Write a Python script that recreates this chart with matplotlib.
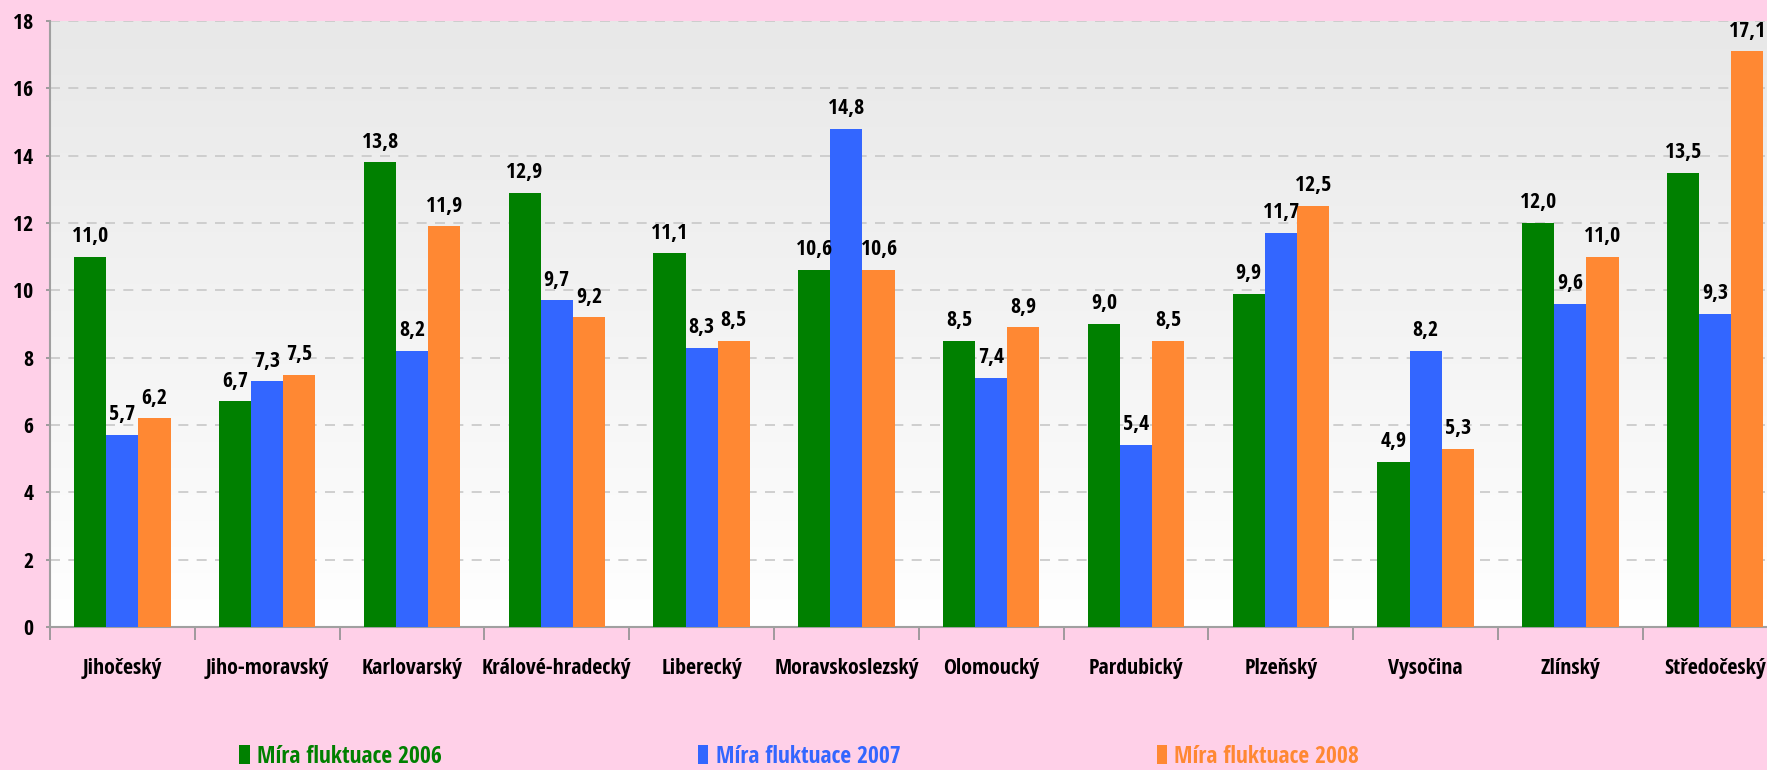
import matplotlib.pyplot as plt
import numpy as np
from matplotlib import font_manager
from matplotlib.font_manager import FontProperties
from matplotlib.textpath import TextPath

# Data
kraje = ['Jihočeský', 'Jiho-moravský', 'Karlovarský', 'Králové-hradecký', 'Liberecký',
         'Moravskoslezský', 'Olomoucký', 'Pardubický', 'Plzeňský', 'Vysočina',
         'Zlínský', 'Středočeský']
mira_2006 = [11.0, 6.7, 13.8, 12.9, 11.1, 10.6, 8.5, 9.0, 9.9, 4.9, 12.0, 13.5]
mira_2007 = [5.7, 7.3, 8.2, 9.7, 8.3, 14.8, 7.4, 5.4, 11.7, 8.2, 9.6, 9.3]
mira_2008 = [6.2, 7.5, 11.9, 9.2, 8.5, 10.6, 8.9, 8.5, 12.5, 5.3, 11.0, 17.1]
serie_nazvy = ['Míra fluktuace 2006', 'Míra fluktuace 2007', 'Míra fluktuace 2008']
y_ticks = [0, 2, 4, 6, 8, 10, 12, 14, 16, 18]

barvy = ['#008000', '#3366ff', '#ff8833']

POVOLENE = {'Liberation Sans Narrow', 'Liberation Sans', 'DejaVu Sans', 'Noto Sans',
            'Roboto', 'Open Sans', 'Lato', 'Inter', 'Roboto Condensed',
            'Open Sans Condensed', 'Noto Sans Condensed', 'DejaVu Sans Condensed'}


def sirka_textu(text, fp, size=100):
    return TextPath((0, 0), text, size=size, prop=fp).get_extents().width


# vybereme nejuzsi tucny font (original je uzky tucny)
nejlepsi = None
for f in font_manager.fontManager.ttflist:
    w = f.weight
    if isinstance(w, str):
        w = font_manager.weight_dict.get(w, 400)
    if f.name not in POVOLENE or w < 600 or f.style != 'normal':
        continue
    try:
        fp = FontProperties(fname=f.fname)
        r = sirka_textu('Jihočeský', fp) / 100
    except Exception:
        continue
    if nejlepsi is None or r < nejlepsi[0]:
        nejlepsi = (r, f.fname)

FNAME = nejlepsi[1]
# velikost tak, aby 'Jihočeský' mel ~81 px a legenda ~182 px
SIZE = float(np.clip(81 * 0.72 / nejlepsi[0], 12, 17))
LEG_SIZE = float(np.clip(182 * 0.72 / (sirka_textu('Míra fluktuace 2006', FontProperties(fname=FNAME)) / 100), 12, 18))


def fp(size):
    return FontProperties(fname=FNAME, size=size)


fig = plt.figure(figsize=(17.67, 7.70), dpi=100, facecolor='#ffd0e8')
# osa presahuje pravy okraj obrazku jako v originale
ax = fig.add_axes([50 / 1767, 143 / 770, 12 * 144.8 / 1767, 606 / 770])

# pozadi s prechodem (bila dole, seda nahore)
grad = np.linspace(0, 1, 256).reshape(-1, 1)
ax.imshow(grad, cmap=plt.matplotlib.colors.LinearSegmentedColormap.from_list(
    'g', ['#ffffff', '#e8e8e8']), origin='lower', aspect='auto',
    extent=[0, 12, 0, 18], zorder=0)

n = len(kraje)
x = np.arange(n)
sirka = 1 / 4.5
serie = [mira_2006, mira_2007, mira_2008]
bary = []
for k, (hodnoty, barva, nazev) in enumerate(zip(serie, barvy, serie_nazvy)):
    pos = x + 0.75 * sirka + (k + 0.5) * sirka
    b = ax.bar(pos, hodnoty, width=sirka, color=barva, label=nazev, zorder=3)
    bary.append(b)
    for px, h in zip(pos, hodnoty):
        ax.annotate('{:.1f}'.format(h).replace('.', ','), (px, h), xytext=(0, 7),
                    textcoords='offset points', ha='center', va='bottom',
                    fontproperties=fp(SIZE), color='black', zorder=4,
                    annotation_clip=False)

ax.set_xlim(0, 12)
ax.set_ylim(0, 18)
ax.set_yticks(y_ticks)
ax.set_yticklabels([str(t) for t in y_ticks], fontproperties=fp(SIZE))
ax.yaxis.grid(True, color='#c8c8c8', linestyle=(0, (6, 5)), linewidth=1.2, zorder=1)

ax.set_xticks(np.arange(0, n + 1))
ax.set_xticklabels([])
ax.set_xticks(x + 0.5, minor=True)
ax.set_xticklabels(kraje, minor=True, fontproperties=fp(SIZE))
ax.tick_params(axis='x', which='major', length=9, width=1.2, color='#909090', direction='out')
ax.tick_params(axis='x', which='minor', length=0, pad=22)
ax.tick_params(axis='y', length=3, width=1.2, color='#909090', pad=9)

for s in ['top', 'right']:
    ax.spines[s].set_visible(False)
for s in ['left', 'bottom']:
    ax.spines[s].set_color('#a0a0a0')
    ax.spines[s].set_linewidth(1.5)

# legenda: zacatky polozek jako v originale (x v pixelech 239, 699, 1151)
leg_px = LEG_SIZE * 100 / 72
text_w = sirka_textu('Míra fluktuace 2006', FontProperties(fname=FNAME), size=LEG_SIZE) * 100 / 72
krok = 456
colsp = (krok - text_w) / leg_px - 0.45 - 0.3
fig.legend(handles=bary, labels=serie_nazvy, loc='center left',
           bbox_to_anchor=(239 / 1767, 13 / 770), ncol=3,
           frameon=False, handlelength=0.45, handleheight=0.85,
           handletextpad=0.3, columnspacing=colsp,
           borderpad=0, borderaxespad=0,
           labelcolor=barvy, prop=fp(LEG_SIZE))

fig.savefig('out.png', dpi=100, facecolor=fig.get_facecolor())
